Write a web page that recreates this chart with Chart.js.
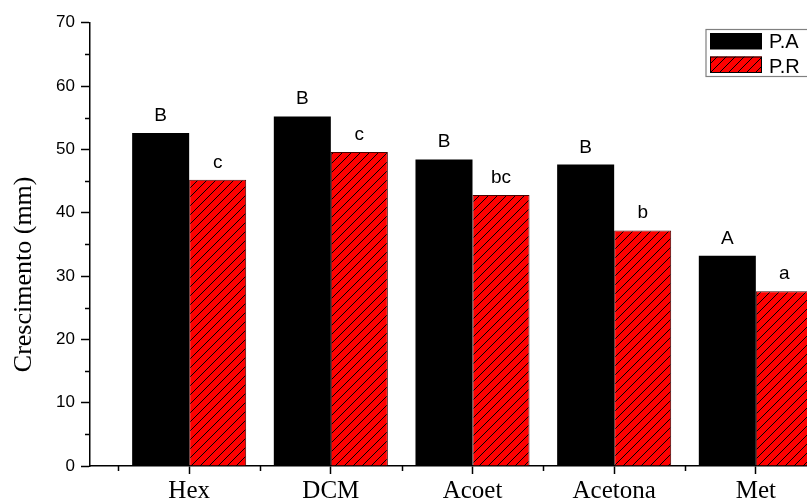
<!DOCTYPE html>
<html>
<head>
<meta charset="utf-8">
<style>
  html, body { margin: 0; padding: 0; background: #fff; overflow: hidden; width: 807px; height: 499px; }
  #wrap { position: absolute; left: 0; top: 0; width: 870px; height: 499px; }
</style>
<script src="https://cdn.jsdelivr.net/npm/chart.js@4.4.1/dist/chart.umd.min.js"></script>
</head>
<body>
<div id="wrap"><canvas id="c" width="870" height="499"></canvas></div>
<script>
const categories = ['Hex', 'DCM', 'Acoet', 'Acetona', 'Met'];
const seriesNames = ['P.A', 'P.R'];
const valuesPA = [52.6, 55.2, 48.4, 47.6, 33.2];
const valuesPR = [45.2, 49.6, 42.8, 37.2, 27.6];
const lettersPA = ['B', 'B', 'B', 'B', 'A'];
const lettersPR = ['c', 'c', 'bc', 'b', 'a'];
const yTicks = [0, 10, 20, 30, 40, 50, 60, 70];
const yMinorTicks = [5, 15, 25, 35, 45, 55, 65];
const xMinorTicks = [0.5, 1.5, 2.5, 3.5, 4.5, 5.5];
const yTitle = 'Crescimento (mm)';

function makeHatch() {
  const s = 9;
  const pc = document.createElement('canvas');
  pc.width = s; pc.height = s;
  const p = pc.getContext('2d');
  p.fillStyle = '#ff0000';
  p.fillRect(0, 0, s, s);
  p.strokeStyle = '#000';
  p.lineWidth = 1;
  p.beginPath();
  p.moveTo(0, s); p.lineTo(s, 0);
  p.moveTo(-1, 1); p.lineTo(1, -1);
  p.moveTo(s - 1, s + 1); p.lineTo(s + 1, s - 1);
  p.stroke();
  return document.getElementById('c').getContext('2d').createPattern(pc, 'repeat');
}
const hatch = makeHatch();

const letterPlugin = {
  id: 'letters',
  afterDatasetsDraw(chart) {
    const ctx = chart.ctx;
    const sets = [lettersPA, lettersPR];
    ctx.save();
    ctx.font = '19px "Liberation Sans", Arial, sans-serif';
    ctx.fillStyle = '#000';
    ctx.textAlign = 'center';
    ctx.textBaseline = 'alphabetic';
    chart.data.datasets.forEach((ds, di) => {
      const meta = chart.getDatasetMeta(di);
      meta.data.forEach((el, i) => {
        ctx.fillText(sets[di][i], el.x, el.y - 12);
      });
    });
    ctx.restore();
  }
};

const extrasPlugin = {
  id: 'extras',
  afterDraw(chart) {
    const ctx = chart.ctx;
    const xs = chart.scales.x, ys = chart.scales.y;
    const area = chart.chartArea;
    ctx.save();
    // minor ticks
    ctx.strokeStyle = '#000';
    ctx.lineWidth = 1.5;
    ctx.beginPath();
    xMinorTicks.forEach(v => {
      const px = Math.round(xs.getPixelForValue(v)) + 0.5;
      ctx.moveTo(px, area.bottom);
      ctx.lineTo(px, area.bottom + 5);
    });
    yMinorTicks.forEach(v => {
      const py = Math.round(ys.getPixelForValue(v)) + 0.5;
      ctx.moveTo(area.left, py);
      ctx.lineTo(area.left - 5, py);
    });
    ctx.stroke();
    // y title
    ctx.translate(24, (area.top + area.bottom) / 2 + 30);
    ctx.rotate(-Math.PI / 2);
    ctx.font = '26px "Liberation Serif", "Times New Roman", serif';
    ctx.fillStyle = '#000';
    ctx.textAlign = 'center';
    ctx.textBaseline = 'middle';
    ctx.fillText(yTitle, 0, 0);
    ctx.restore();

    // legend
    const bx = area.right - 149, by = 29.5;
    ctx.save();
    ctx.fillStyle = '#fff';
    ctx.fillRect(bx, by, 112, 47);
    ctx.strokeStyle = '#808080';
    ctx.lineWidth = 1.2;
    ctx.strokeRect(bx, by, 112, 47);
    ctx.fillStyle = '#000';
    ctx.fillRect(bx + 4, by + 3.5, 52, 16.5);
    ctx.fillStyle = hatch;
    ctx.fillRect(bx + 4, by + 27, 52, 16.5);
    ctx.strokeStyle = '#000';
    ctx.lineWidth = 1;
    ctx.strokeRect(bx + 4.5, by + 27.5, 51, 15.5);
    ctx.fillStyle = '#000';
    ctx.font = '20px "Liberation Sans", Arial, sans-serif';
    ctx.textAlign = 'left';
    ctx.textBaseline = 'alphabetic';
    ctx.fillText(seriesNames[0], bx + 63, by + 18.5);
    ctx.fillText(seriesNames[1], bx + 63, by + 43);
    ctx.restore();
  }
};

new Chart(document.getElementById('c'), {
  type: 'bar',
  data: {
    datasets: [
      {
        label: seriesNames[0],
        data: valuesPA.map((v, i) => ({ x: i + 1, y: v })),
        backgroundColor: '#000',
        borderWidth: 0,
        barPercentage: 1,
        categoryPercentage: 0.805
      },
      {
        label: seriesNames[1],
        data: valuesPR.map((v, i) => ({ x: i + 1, y: v })),
        backgroundColor: hatch,
        borderColor: '#4a0000',
        borderWidth: 1,
        barPercentage: 1,
        categoryPercentage: 0.805
      }
    ]
  },
  options: {
    responsive: false,
    animation: false,
    devicePixelRatio: 1,
    layout: { padding: { top: 22.7, right: 15, bottom: 0, left: 0 } },
    plugins: { legend: { display: false }, tooltip: { enabled: false } },
    scales: {
      x: {
        type: 'linear',
        min: 0.3,
        max: 5.7,
        offset: false,
        afterBuildTicks: (s) => { s.ticks = categories.map((c, i) => ({ value: i + 1 })); },
        afterFit: (s) => { s.height = 33; },
        border: { display: true, color: '#000', width: 1.5 },
        grid: { display: true, offset: false, drawOnChartArea: false, drawTicks: true, tickLength: 8, tickColor: '#000', tickWidth: 1.5 },
        ticks: {
          autoSkip: false,
          maxRotation: 0,
          padding: 2,
          color: '#000',
          font: { family: '"Liberation Serif", "Times New Roman", serif', size: 25 },
          callback: (v) => categories[v - 1] ?? ''
        }
      },
      y: {
        min: 0,
        max: 70,
        afterBuildTicks: (s) => { s.ticks = yTicks.map(v => ({ value: v })); },
        afterFit: (s) => { s.width = 90; },
        border: { display: true, color: '#000', width: 1.5 },
        grid: { display: true, drawOnChartArea: false, drawTicks: true, tickLength: 9, tickColor: '#000', tickWidth: 1.5 },
        ticks: {
          padding: 6,
          color: '#000',
          font: { family: '"Liberation Sans", Arial, sans-serif', size: 17 }
        }
      }
    }
  },
  plugins: [letterPlugin, extrasPlugin]
});
</script>
</body>
</html>
